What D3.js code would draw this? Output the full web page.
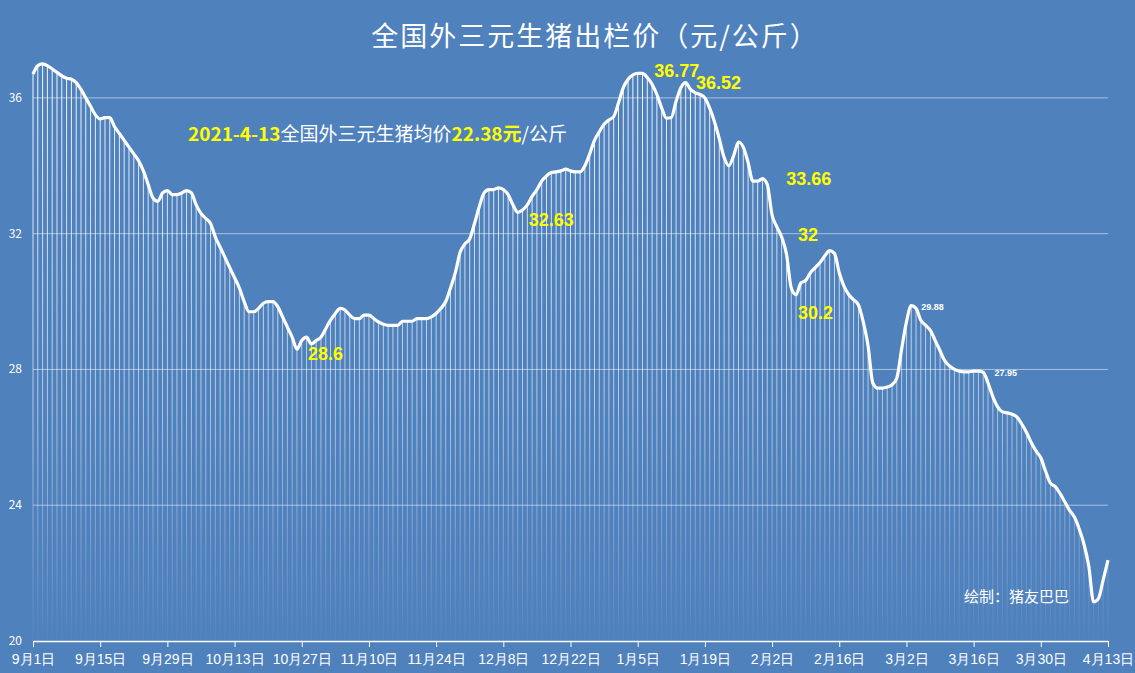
<!DOCTYPE html>
<html><head><meta charset="utf-8">
<script src="https://cdn.jsdelivr.net/npm/d3@7"></script>
<style>body{margin:0;background:#4f81bd;}svg{display:block;font-family:"Noto Sans CJK SC","Microsoft YaHei",sans-serif;}</style>
</head><body><div id="chart"></div>
<script>
// daily price, 2020-09-01 .. 2021-04-13
const START = new Date(2020, 8, 1);
const prices = [
36.7,36.95,37.0,36.95,36.85,36.75,36.65,36.58,36.55,36.45,
36.25,36.0,35.75,35.5,35.38,35.42,35.42,35.15,34.95,34.75,
34.55,34.35,34.15,33.85,33.45,33.05,32.95,33.2,33.27,33.15,
33.15,33.2,33.27,33.2,32.85,32.6,32.45,32.3,31.9,31.6,
31.3,31.0,30.7,30.4,30.0,29.7,29.7,29.8,29.95,30.0,
30.0,29.85,29.55,29.25,28.95,28.6,28.85,28.95,28.75,28.85,
28.95,29.2,29.45,29.65,29.8,29.75,29.6,29.5,29.5,29.6,
29.6,29.5,29.4,29.33,29.3,29.3,29.3,29.42,29.42,29.42,
29.5,29.5,29.5,29.55,29.65,29.8,30.0,30.4,30.85,31.45,
31.7,31.85,32.3,32.8,33.2,33.3,33.3,33.35,33.3,33.15,
32.85,32.63,32.7,32.85,33.1,33.3,33.55,33.7,33.8,33.82,
33.85,33.9,33.85,33.82,33.82,34.0,34.35,34.75,35.0,35.22,
35.35,35.45,35.85,36.3,36.55,36.68,36.72,36.72,36.6,36.4,
36.1,35.7,35.4,35.42,35.9,36.3,36.45,36.25,36.15,36.1,
36.0,35.7,35.3,34.8,34.25,34.0,34.3,34.7,34.55,34.1,
33.55,33.55,33.62,33.45,32.55,32.2,31.9,31.4,30.4,30.2,
30.55,30.62,30.85,31.0,31.15,31.35,31.5,31.42,30.85,30.45,
30.2,30.05,29.9,29.4,28.7,27.6,27.45,27.45,27.48,27.55,
27.75,28.6,29.4,29.88,29.8,29.45,29.3,29.15,28.85,28.55,
28.25,28.1,28.0,27.95,27.93,27.93,27.95,27.95,27.92,27.6,
27.2,26.9,26.75,26.72,26.68,26.6,26.4,26.15,25.85,25.6,
25.4,25.0,24.65,24.55,24.35,24.1,23.85,23.65,23.3,22.85,
22.2,21.15,21.25,21.8,22.38
];
const yTicks = [20, 24, 28, 32, 36];
const labels = [
  {day: 128, text: "36.77", dx: 7, dy: -1, size: 18},
  {day: 139, text: "36.52", dx: -4, dy: -5, size: 18},
  {day: 101, text: "32.63", dx: 11, dy: 14, size: 18},
  {day: 55, text: "28.6", dx: 11, dy: 11, size: 18},
  {day: 153, text: "33.66", dx: 19, dy: 1, size: 18},
  {day: 159, text: "32", dx: 2, dy: -54, size: 18},
  {day: 159, text: "30.2", dx: 2, dy: 24, size: 18},
  {day: 183, text: "29.88", dx: 10, dy: 4, size: 9, color: "#fff"},
  {day: 197, text: "27.95", dx: 16, dy: 5, size: 9, color: "#fff"}
];

const W = 1135, H = 673;
const M = {top: 30, right: 27, bottom: 32, left: 33};

const svg = d3.select("#chart").append("svg").attr("width", W).attr("height", H);
svg.append("rect").attr("width", W).attr("height", H).attr("fill", "#4f81bd");

const x = d3.scaleLinear().domain([0, prices.length - 1]).range([M.left, W - M.right]);
const y = d3.scaleLinear().domain([20, 38]).range([H - M.bottom, M.top]);

// grid
svg.append("g").selectAll("line").data(yTicks.slice(1)).join("line")
  .attr("x1", M.left).attr("x2", W - M.right)
  .attr("y1", d => y(d)).attr("y2", d => y(d))
  .attr("stroke", "#a9c1e0").attr("stroke-width", 1);

svg.append("g").selectAll("text").data(yTicks).join("text")
  .attr("x", 22).attr("y", d => y(d) + 4).attr("text-anchor", "end")
  .attr("fill", "#fff").attr("font-size", 12).text(d => d);

// drop lines with fading gradient
const grad = svg.append("defs").append("linearGradient").attr("id", "fade")
  .attr("gradientUnits", "userSpaceOnUse")
  .attr("x1", 0).attr("x2", 0).attr("y1", y(37)).attr("y2", y(20));
grad.append("stop").attr("offset", "0").attr("stop-color", "#fff").attr("stop-opacity", 0.95);
grad.append("stop").attr("offset", "0.6").attr("stop-color", "#fff").attr("stop-opacity", 0.55);
grad.append("stop").attr("offset", "1").attr("stop-color", "#fff").attr("stop-opacity", 0.02);

svg.append("g").selectAll("line").data(prices).join("line")
  .attr("x1", (d, i) => x(i)).attr("x2", (d, i) => x(i))
  .attr("y1", d => y(d)).attr("y2", y(20))
  .attr("stroke", "url(#fade)").attr("stroke-width", 1);

// x axis
const tickDays = d3.range(0, prices.length, 14);
const xAxis = svg.append("g").attr("transform", `translate(0,${y(20)})`)
  .call(d3.axisBottom(x).tickValues(tickDays).tickSize(6).tickSizeOuter(0)
    .tickFormat(d => { const t = d3.timeDay.offset(START, d); return (t.getMonth() + 1) + "月" + t.getDate() + "日"; }));
xAxis.select(".domain").attr("stroke", "#fff").attr("stroke-width", 1.5);
xAxis.selectAll(".tick line").attr("stroke", "#fff");
xAxis.selectAll(".tick text").attr("fill", "#fff").attr("font-size", 14).attr("dy", "1.0em");

// price line
svg.append("path").datum(prices)
  .attr("d", d3.line().x((d, i) => x(i)).y(d => y(d)).curve(d3.curveMonotoneX))
  .attr("fill", "none").attr("stroke", "#fff").attr("stroke-width", 3.2)
  .attr("stroke-linejoin", "round");

// data labels
svg.append("g").selectAll("text").data(labels).join("text")
  .attr("x", d => x(d.day) + d.dx).attr("y", d => y(prices[d.day]) + d.dy)
  .attr("fill", d => d.color || "#ffff00").attr("font-size", d => d.size)
  .attr("font-weight", "bold").attr("font-family", "Liberation Sans, Arial, sans-serif")
  .text(d => d.text);

// title
svg.append("text").attr("x", 595).attr("y", 46).attr("text-anchor", "middle")
  .attr("fill", "#fff").attr("font-size", 27).attr("letter-spacing", 2)
  .text("全国外三元生猪出栏价（元/公斤）");

const note = svg.append("text").attr("x", 188).attr("y", 141).attr("font-size", 19).attr("fill", "#fff");
note.append("tspan").attr("fill", "#ffff00").attr("font-weight", "bold").text("2021-4-13");
note.append("tspan").text("全国外三元生猪均价");
note.append("tspan").attr("fill", "#ffff00").attr("font-weight", "bold").text("22.38元");
note.append("tspan").text("/公斤");

svg.append("text").attr("x", 964).attr("y", 602).attr("font-size", 15)
  .attr("fill", "#fff").text("绘制：猪友巴巴");
</script></body></html>
